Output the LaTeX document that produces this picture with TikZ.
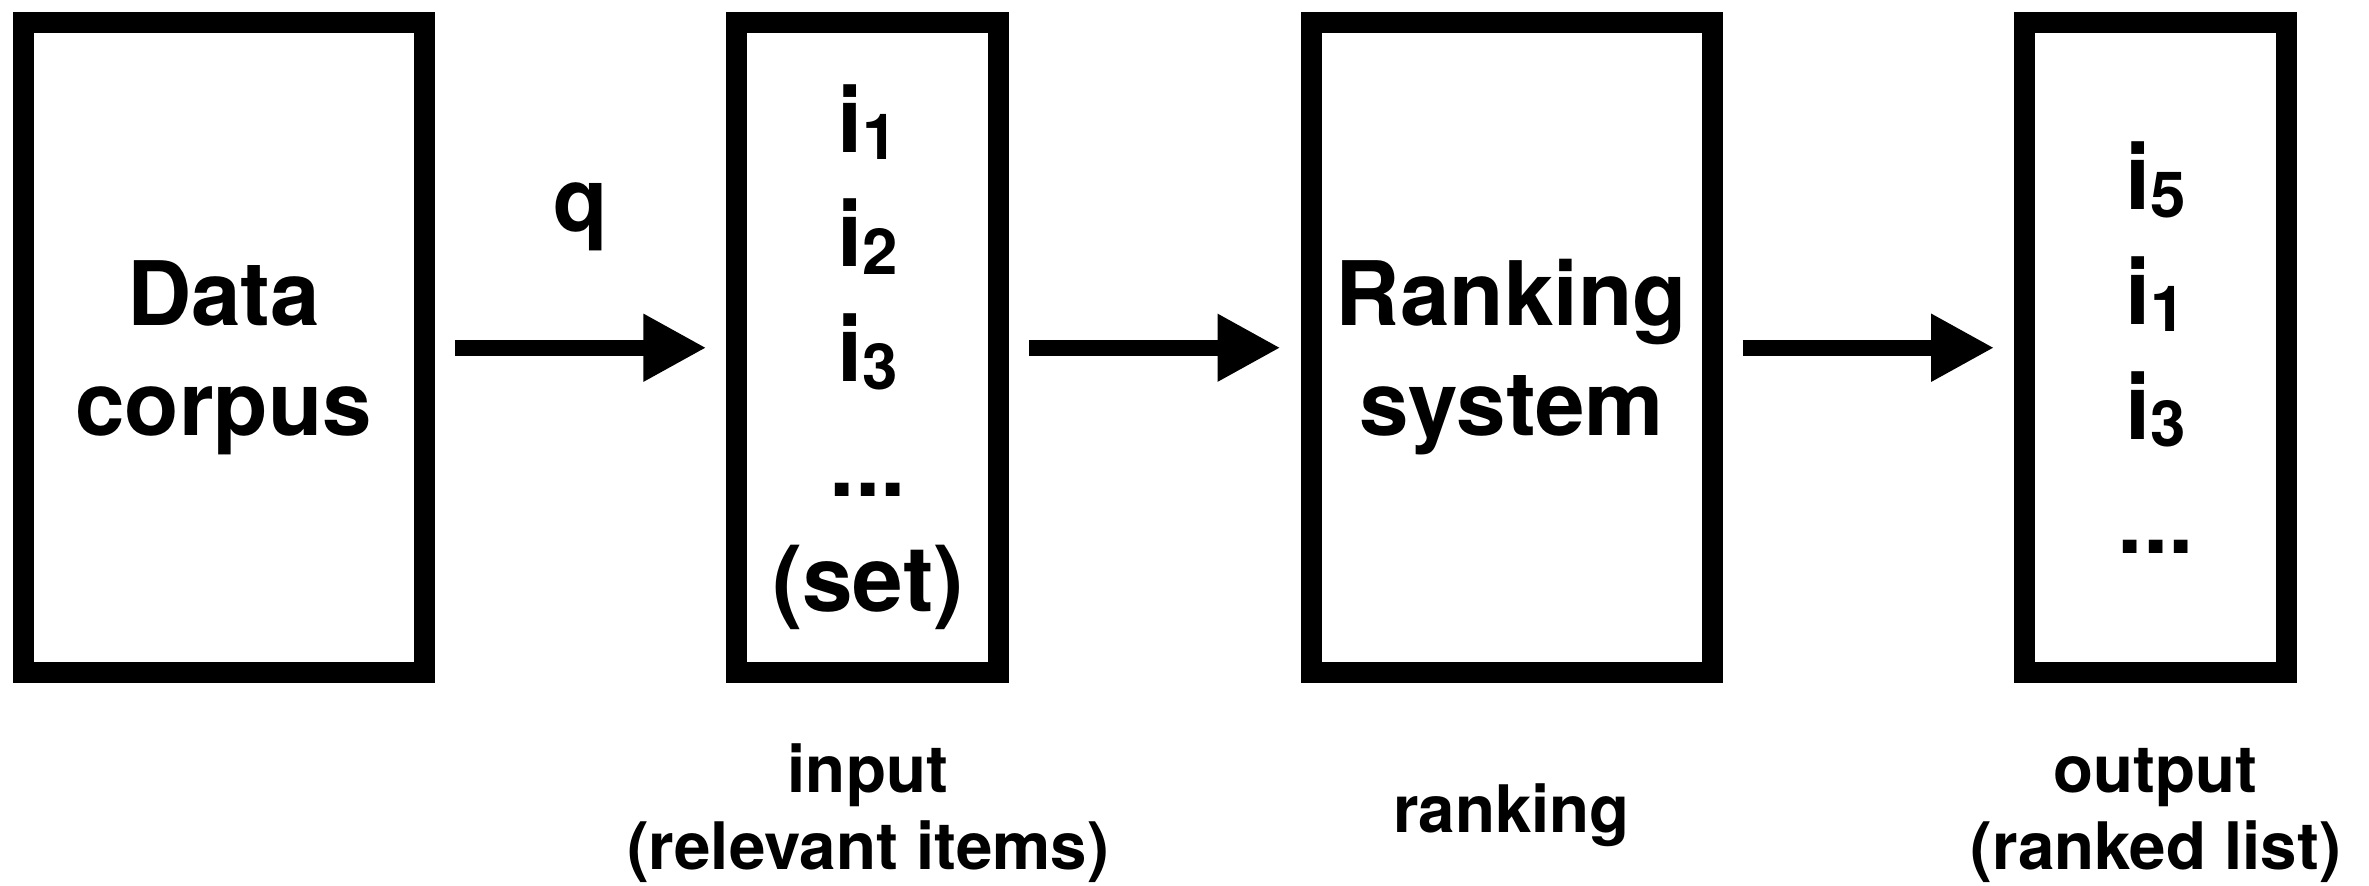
\documentclass[tikz,border=0pt]{standalone}
\usepackage{fontspec}
\setmainfont{TeX Gyre Heros}
\usetikzlibrary{arrows.meta,positioning}

% item with a lowered index, e.g. i_1
\newcommand{\isub}[1]{i\raisebox{-3.8pt}{\fontsize{31.8}{31.8}\selectfont #1}}

\tikzset{
  stage/.style={draw, line width=10.5pt, minimum height=324.75pt, inner sep=0pt,
    align=center, text depth=0pt, font=\bfseries\fontsize{44.5}{55}\selectfont},
  wide/.style={stage, minimum width=200.5pt},
  narrow/.style={stage, minimum width=131pt, font=\bfseries\fontsize{45.5}{57.4}\selectfont},
  flow/.style={line width=7.8pt, -{Triangle[length=31.5pt,width=31.7pt]},
    shorten <=10pt, shorten >=10pt},
  query/.style={inner sep=0pt, text depth=0pt, font=\bfseries\fontsize{44.5}{55}\selectfont},
  caption/.style={anchor=south, inner sep=0pt, align=center, text depth=0pt,
    font=\bfseries\fontsize{32.75}{38.5}\selectfont}
}

\begin{document}
\begin{tikzpicture}[x=0.5pt, y=-0.5pt]
    \useasboundingbox (0,0) rectangle (2369,886);

    \node[wide] (corpus) at (223.75,347.75) {Data\\corpus};
    \node[narrow] (inset) at (867.9,347.75) {\isub{1}\\\isub{2}\\\isub{3}\\...\\(set)};
    \node[wide] (ranker) at (1511.5,347.75) {Ranking\\system};
    \node[narrow] (outlist) at (2155.7,347.75) {\isub{5}\\\isub{1}\\\isub{3}\\...};

    \draw[flow] (corpus) -- node[query, above=54.4pt] (q) {q} (inset);
    \draw[flow] (inset) -- (ranker);
    \draw[flow] (ranker) -- (outlist);

    \node[caption] (incap) at (867.9,870) {input\\(relevant items)};
    \node[caption] (rankcap) at (1511.5,833) {ranking};
    \node[caption] (outcap) at (2155.7,870) {output\\(ranked list)};
\end{tikzpicture}
\end{document}
